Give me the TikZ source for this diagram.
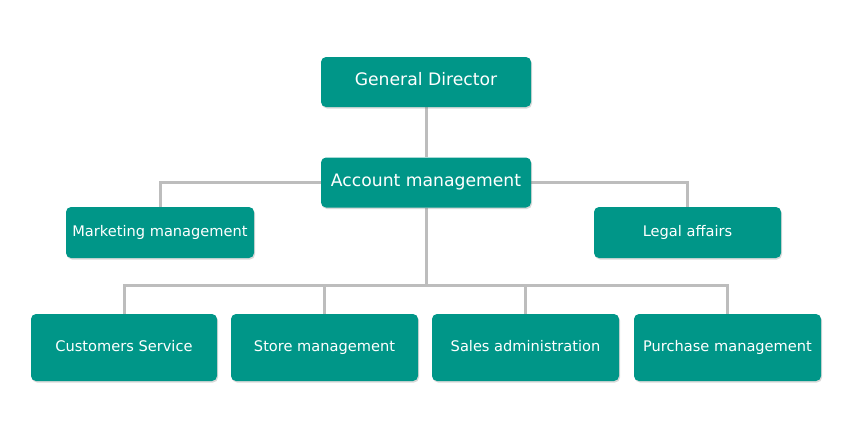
\documentclass[tikz,border=0pt]{standalone}
\usepackage{fontspec}
\setmainfont{DejaVu Sans}
\usepackage{xcolor}
\usetikzlibrary{positioning, shadows, backgrounds}

\definecolor{teal500}{HTML}{009688}
\definecolor{linkgray}{HTML}{BDBDBD}

\begin{document}
\begin{tikzpicture}[
  x=1pt, y=-1pt,
  unit/.style={fill=teal500, text=white, rounded corners=5pt,
               minimum width=210pt, minimum height=50pt, align=center,
               text height=0.73em, text depth=0pt,
               font=\fontsize{17.2}{20}\selectfont,
               drop shadow={opacity=0.3, shadow xshift=1pt, shadow yshift=-1.5pt}},
  dept/.style={unit, minimum width=187pt, minimum height=51pt,
               font=\fontsize{14.6}{17}\selectfont},
  team/.style={dept, minimum height=67pt},
  link/.style={draw=linkgray, line width=3pt}
]
\useasboundingbox (0,0) rectangle (850,440);

\node[unit] (gd) at (426,82) {General Director};
\node[unit] (am) at (426,182.5) {Account management};
\node[dept, minimum width=188pt] (mk) at (160,232.5) {Marketing management};
\node[dept] (la) at (687.5,232.5) {Legal affairs};

\node[team, minimum width=186pt] (cs) at (124,347.5) {Customers Service};
\node[team] (sm) at (324.5,347.5) {Store management};
\node[team] (sa) at (525.5,347.5) {Sales administration};
\node[team] (pm) at (727.5,347.5) {Purchase management};

\coordinate (bus) at (426,285);

% connectors
\begin{scope}[on background layer]
\draw[link] (gd) -- (am);
\draw[link] (am.west) -| (mk.north);
\draw[link] (am.east) -| (la.north);
\draw[link] (am) -- (bus);
\foreach \n in {cs,sm,sa,pm}
  \draw[link] (\n.north) |- (bus);
\end{scope}
\end{tikzpicture}
\end{document}
